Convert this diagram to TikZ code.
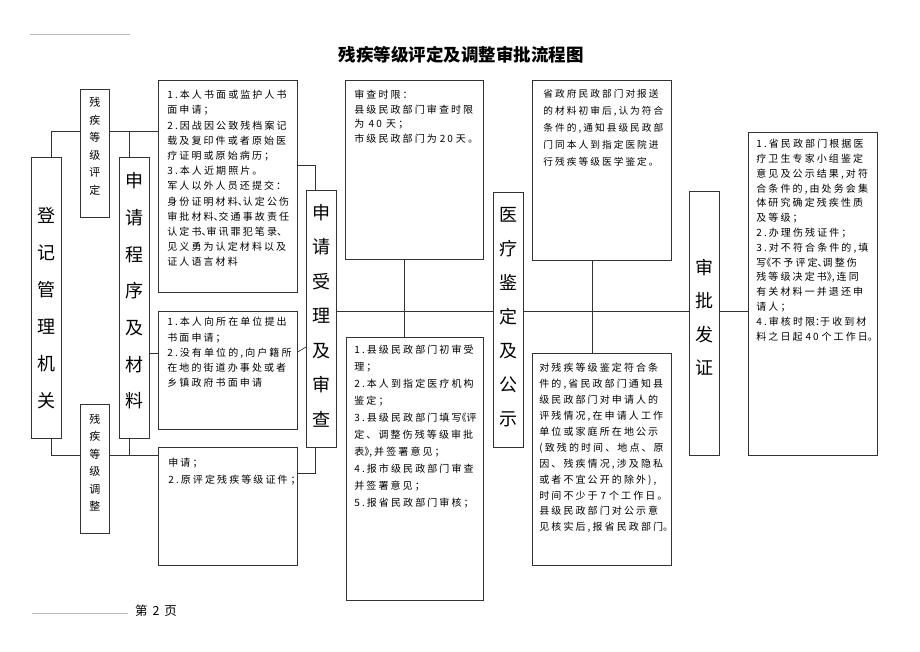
\documentclass[tikz,border=0pt]{standalone}
\usepackage{fontspec}
\usepackage{xcolor}
\setmainfont{Noto Sans CJK SC}
\newfontfamily\memofont{Noto Sans CJK SC}[LetterSpace=21]
\definecolor{rule}{HTML}{333333}
\definecolor{faint}{HTML}{BBBBBB}

\newcommand{\hw}[1]{\makebox[0.5em][l]{#1}}
\newcommand{\hwr}[1]{\makebox[0.5em][r]{#1}}
\newcommand{\memotext}[5]{\parbox[t][#2][t]{#1}{\raggedright\memofont\fontsize{10}{#4}\selectfont\vspace*{#3}#5}}
\newcommand{\pillartext}[5]{\parbox{26pt}{\centering\fontsize{#1}{#2}\selectfont\vspace*{#3}#5\par\vspace*{#4}}}

\tikzset{
	memo/.style={draw=rule, line width=0.7pt, fill=white, anchor=north west, inner ysep=0pt, inner xsep=#1},
	memo/.default=8pt,
	pillar/.style={draw=rule, line width=0.7pt, fill=white, anchor=north west, inner sep=0pt, minimum width=30pt, minimum height=#1},
	link/.style={draw=rule, line width=0.7pt},
}

\begin{document}
\begin{tikzpicture}[x=1pt, y=-1pt]
	\useasboundingbox (0,0) rectangle (920,651);

	\draw[faint, line width=0.5pt] (30,34) -- (130,34);
	\node (title) at (461,55) {\fontsize{17.5}{20}\selectfont\bfseries 残疾等级评定及调整审批流程图};

	% left column
	\node[pillar=281pt] (reg) at (31,157) {\pillartext{18}{37pt}{20pt}{0pt}{登\\记\\管\\理\\机\\关}};
	\node[pillar=128pt, minimum width=29pt] (eval) at (80,89) {\pillartext{11}{17.5pt}{0pt}{14pt}{残\\疾\\等\\级\\评\\定}};
	\node[pillar=129pt, minimum width=29pt] (adj) at (80,404) {\pillartext{11}{17.5pt}{0pt}{12pt}{残\\疾\\等\\级\\调\\整}};
	\node[pillar=281pt] (proc) at (119,157) {\pillartext{18}{36.7pt}{0pt}{14pt}{申\\请\\程\\序\\及\\材\\料}};

	% application materials
	\node[memo=9pt] (appA) at (158,80) {\memotext{121pt}{212pt}{10pt}{15.2pt}{1.本人书面或监护人书\\面申请；\\2.因战因公致残档案记\\载及复印件或者原始医\\疗证明或原始病历；\\3.本人近期照片。\\军人以外人员还提交：\\身份证明材料\hw{、}认定公伤\\审批材料\hw{、}交通事故责任\\认定书\hw{、}审讯罪犯笔录\hw{、}\\见义勇为认定材料以及\\证人语言材料}};
	\node[memo=9pt] (appB) at (158,311) {\memotext{121pt}{118pt}{6pt}{15.2pt}{1.本人向所在单位提出\\书面申请；\\2.没有单位的,向户籍所\\在地的街道办事处或者\\乡镇政府书面申请}};
	\node[memo=10pt] (appC) at (158,447) {\memotext{119pt}{118pt}{11pt}{17pt}{申请；\\2.原评定残疾等级证件~；}};

	% acceptance and review
	\node[pillar=257pt] (accept) at (306,190) {\pillartext{18}{34.5pt}{0pt}{6pt}{申\\请\\受\\理\\及\\审\\查}};
	\node[memo=9pt] (limit) at (345,80) {\memotext{120pt}{179pt}{10pt}{14.5pt}{审查时限：\\县级民政部门审查时限\\为~40~天；\\市级民政部门为~20~天。}};
	\node[memo=8pt] (first) at (346,337) {\memotext{121pt}{263pt}{8pt}{17pt}{1.县级民政部门初审受\\理；\\2.本人到指定医疗机构\\鉴定；\\3.县级民政部门填写\hwr{《}评\\定、调整伤残等级审批\\表\hw{》},并签署意见；\\4.报市级民政部门审查\\并签署意见；\\5.报省民政部门审核；}};

	% medical assessment and publicity
	\node[pillar=255pt] (med) at (493,192) {\pillartext{18}{34pt}{0pt}{6pt}{医\\疗\\鉴\\定\\及\\公\\示}};
	\node[memo=11pt] (notify) at (532,80) {\memotext{117pt}{180pt}{9pt}{17pt}{\fontsize{9.7}{17}\selectfont 省政府民政部门对报送\\的材料初审后,认为符合\\条件的,通知县级民政部\\门同本人到指定医院进\\行残疾等级医学鉴定。}};
	\node[memo=7pt] (publicity) at (532,353) {\memotext{125pt}{212pt}{10pt}{15.9pt}{对残疾等级鉴定符合条\\件的,省民政部门通知县\\级民政部门对申请人的\\评残情况,在申请人工作\\单位或家庭所在地公示\\(致残的时间、地点、原\\因、残疾情况,涉及隐私\\或者不宜公开的除外),\\时间不少于~7~个工作日。\\县级民政部门对公示意\\见核实后,报省民政部门\hw{。}}};

	% approval
	\node[pillar=264pt] (issue) at (689,191) {\pillartext{18}{33.5pt}{0pt}{12pt}{审\\批\\发\\证}};
	\node[memo=8pt] (decide) at (748,132) {\memotext{113pt}{323pt}{7pt}{14.8pt}{1.省民政部门根据医\\疗卫生专家小组鉴定\\意见及公示结果,对符\\合条件的,由处务会集\\体研究确定残疾性质\\及等级；\\2.办理伤残证件；\\3.对不符合条件的,填\\写\hwr{《}不予评定\hw{、}调整伤\\残等级决定书\hw{》},连同\\有关材料一并退还申\\请人；\\4.审核时限\hw{：}于收到材\\料之日起~40~个工作日\hw{。}}};

	% connectors
	\coordinate (topbus) at (0,131);
	\coordinate (botbus) at (0,455);
	\coordinate (spine) at (0,311);
	\coordinate (tapA) at (0,165);
	\coordinate (tapB) at (0,353);
	\coordinate (tapC) at (0,473);
	\coordinate (slantB) at (0,352);
	\coordinate (slantR) at (0,347);

	\draw[link] ([xshift=5pt]reg.north) |- (eval.west |- topbus);
	\draw[link] (eval.east |- topbus) -- (appA.west |- topbus);
	\draw[link] ([xshift=-5pt]proc.north) -- ([xshift=-5pt]proc.north |- topbus);
	\draw[link] ([xshift=5pt]reg.south) |- (adj.west |- botbus);
	\draw[link] (adj.east |- botbus) -- (appC.west |- botbus);
	\draw[link] ([xshift=-5pt]proc.south) -- ([xshift=-5pt]proc.south |- botbus);
	\draw[link] (proc.east |- tapB) -- (appB.west |- tapB);

	\draw[link] (appA.east |- tapA) -| ([xshift=-6pt]accept.north);
	\draw[link] (appB.east |- slantB) -- (accept.west |- slantR);
	\draw[link] (appC.east |- tapC) -| ([xshift=-6pt]accept.south);

	\draw[link] (accept.east |- spine) -- (med.west |- spine);
	\draw[link] (med.east |- spine) -- (issue.west |- spine);
	\draw[link] (issue.east |- spine) -- (decide.west |- spine);
	\draw[link] ([xshift=-10pt]limit.south) -- ([xshift=-10pt]limit.south |- first.north);
	\draw[link] ([xshift=-9.5pt]notify.south) -- ([xshift=-9.5pt]notify.south |- publicity.north);

	% footer
	\draw[faint, line width=0.5pt] (32,613) -- (128,613);
	\node (page) at (156,611) {\fontsize{12.5}{14}\selectfont 第\hspace{5pt}2\hspace{5pt}页};
\end{tikzpicture}
\end{document}
